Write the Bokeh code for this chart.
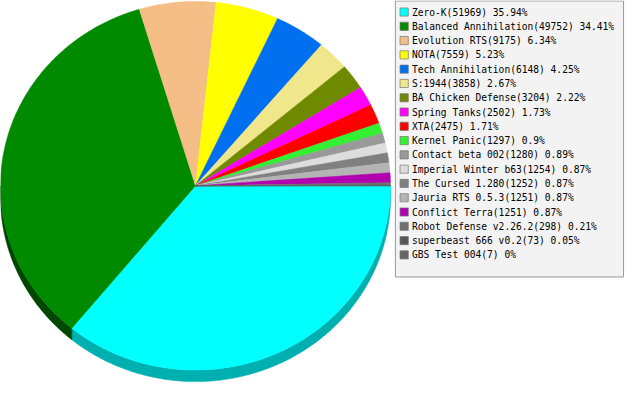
import math
from bokeh.plotting import figure
from bokeh.models import Range1d, ColumnDataSource
from bokeh.core.properties import value
from bokeh.embed import file_html
from bokeh.resources import INLINE

# ---- data ----
games = ["Zero-K", "Balanced Annihilation", "Evolution RTS", "NOTA", "Tech Annihilation",
         "S:1944", "BA Chicken Defense", "Spring Tanks", "XTA", "Kernel Panic",
         "Contact beta 002", "Imperial Winter b63", "The Cursed 1.280", "Jauria RTS 0.5.3",
         "Conflict Terra", "Robot Defense v2.26.2", "superbeast 666 v0.2", "GBS Test 004"]
counts = [51969, 49752, 9175, 7559, 6148, 3858, 3204, 2502, 2475, 1297,
          1280, 1254, 1252, 1251, 1251, 298, 73, 7]
percents = ["35.94", "34.41", "6.34", "5.23", "4.25", "2.67", "2.22", "1.73", "1.71", "0.9",
            "0.89", "0.87", "0.87", "0.87", "0.87", "0.21", "0.05", "0"]

# ---- styles ----
colors = ["#00FFFF", "#008A00", "#F4BE86", "#FFFF00", "#0070F0", "#F0E68C", "#708A00",
          "#FF00FF", "#FF0000", "#33F033", "#999999", "#DDDDDD", "#808080", "#B4B4B4",
          "#B000B0", "#707070", "#555555", "#666666"]
side_factor = [0.69, 0.52] + [0.6] * 16

W, H = 641, 400          # reference pixel space
CX, CY = 200, 400 - 193  # pie centre (y up)
RX, RY = 200, 192
DEPTH = 12

p = figure(width=625, height=384, output_backend="svg", toolbar_location=None,
           x_range=Range1d(0, W), y_range=Range1d(0, H), min_border=0,
           background_fill_color="white", border_fill_color="white")
p.axis.visible = False
p.grid.visible = False
p.outline_line_color = None


def darken(hexc, f):
    r, g, b = int(hexc[1:3], 16), int(hexc[3:5], 16), int(hexc[5:7], 16)
    return "#%02X%02X%02X" % (int(r * f), int(g * f), int(b * f))


total = float(sum(counts))
starts, ends = [], []
acc = 0.0
for c in counts:
    starts.append(-acc / total * 2 * math.pi)
    acc += c
    ends.append(-acc / total * 2 * math.pi)


def arc(a0, a1):
    n = max(3, int(abs(a1 - a0) * 180 / math.pi * 2) + 2)
    ts = [a0 + (a1 - a0) * k / (n - 1) for k in range(n)]
    return [CX + RX * math.cos(t) for t in ts], [CY + RY * math.sin(t) for t in ts]

# 3D sides (only visible on the lower half)
sx, sy, sc = [], [], []
for i in range(len(counts)):
    a0 = min(starts[i], 0.0)
    a1 = max(ends[i], -math.pi)
    if a0 <= -math.pi or a1 >= 0 or a0 <= a1 is False:
        continue
    if a0 - a1 <= 0:
        continue
    xs, ys = arc(a0, a1)
    sx.append(xs + xs[::-1])
    sy.append(ys + [y - DEPTH for y in ys[::-1]])
    sc.append(darken(colors[i], side_factor[i]))
p.patches(xs="xs", ys="ys", fill_color="c", line_color="c", line_width=0.5,
          source=ColumnDataSource(dict(xs=sx, ys=sy, c=sc)))

# top faces
tx, ty = [], []
for i in range(len(counts)):
    xs, ys = arc(starts[i], ends[i])
    tx.append([CX] + xs)
    ty.append([CY] + ys)
p.patches(xs="xs", ys="ys", fill_color="c", line_color="c", line_width=0.5,
          source=ColumnDataSource(dict(xs=tx, ys=ty, c=colors)))

# legend box
p.quad(left=[405], right=[639], bottom=[H - 288], top=[H - 0.5],
       fill_color="#F3F3F3", line_color="#999999", line_width=1)

row_y = [H - (12 + 14.88 * i) for i in range(len(games))]
labels = ["%s(%d) %s%%" % (g, c, pc) for g, c, pc in zip(games, counts, percents)]
p.rect(x=[414] * len(games), y=row_y, width=8.5, height=8.5,
       fill_color=colors, line_color="#777777", line_width=0.7)
p.text(x=[422] * len(games), y=row_y, text=labels, text_font=value("DejaVu Sans Mono"),
       text_font_size="9.6px", text_baseline="middle", text_align="left", text_color="#000000")

open("out.html", "w").write(file_html(p, INLINE))
